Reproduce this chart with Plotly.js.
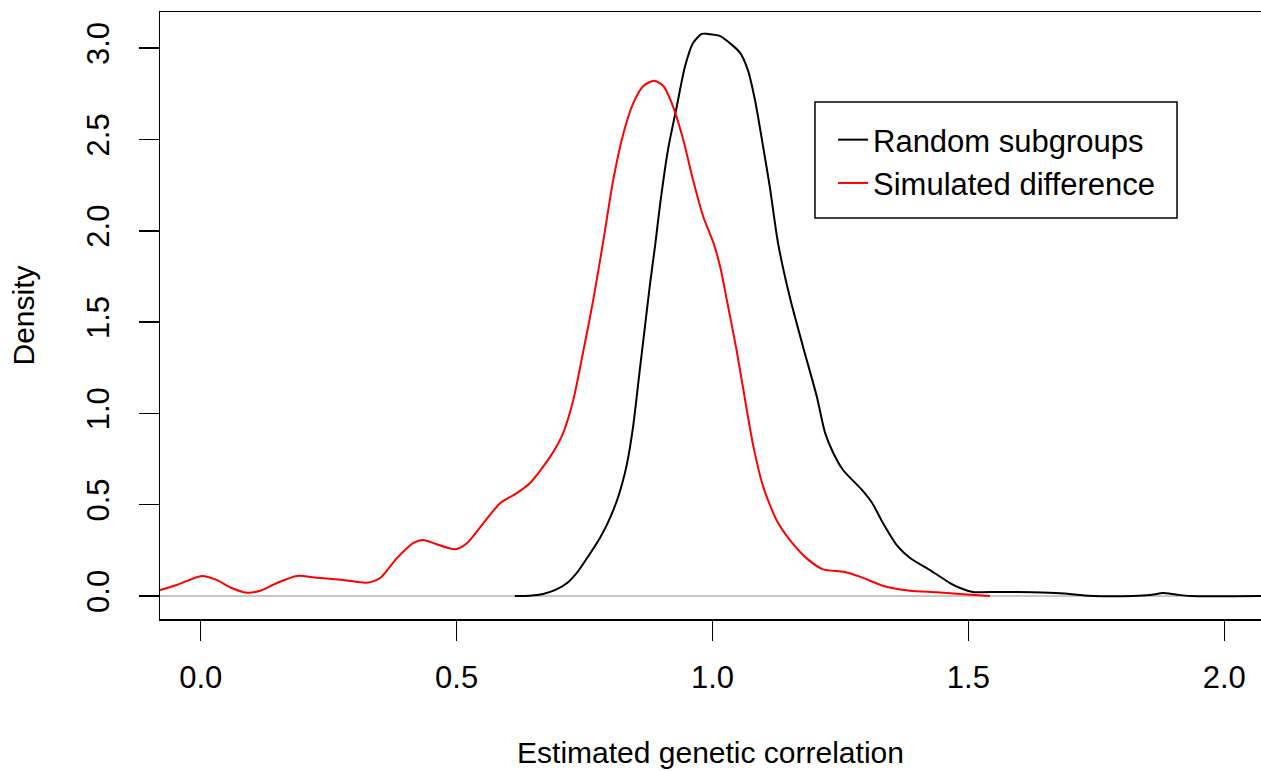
<!DOCTYPE html>
<html>
<head>
<meta charset="utf-8">
<script src="https://cdn.plot.ly/plotly-3.0.1.min.js"></script>
<style>html,body{margin:0;padding:0;background:#fff;}#chart{width:1261px;height:771px;}</style>
</head>
<body>
<div id="chart"></div>
<script>
// Random subgroups density
const randomX = [0.614,0.643,0.669,0.693,0.716,0.736,0.755,0.780,0.794,0.813,0.823,0.833,0.845,0.858,0.868,0.878,0.888,0.897,0.913,0.930,0.946,0.962,0.979,0.991,1.014,1.038,1.054,1.069,1.083,1.099,1.112,1.128,1.151,1.177,1.204,1.220,1.236,1.255,1.292,1.312,1.333,1.360,1.386,1.425,1.464,1.484,1.509,1.562,1.626,1.679,1.712,1.744,1.822,1.855,1.880,1.905,1.933,2.072];
const randomY = [0,0.002,0.011,0.033,0.071,0.131,0.208,0.318,0.392,0.520,0.610,0.725,0.930,1.240,1.475,1.710,1.922,2.131,2.443,2.678,2.897,3.028,3.078,3.078,3.067,3.018,2.974,2.881,2.716,2.459,2.240,1.933,1.637,1.364,1.090,0.893,0.783,0.690,0.581,0.509,0.400,0.279,0.208,0.142,0.071,0.044,0.022,0.022,0.020,0.015,0.007,0,0,0.005,0.016,0.008,0,0];
// Simulated difference density
const simX = [-0.095,-0.0795,-0.0469,0.002,0.031,0.057,0.090,0.116,0.148,0.188,0.227,0.279,0.324,0.350,0.383,0.415,0.435,0.461,0.497,0.520,0.552,0.585,0.617,0.643,0.683,0.708,0.728,0.748,0.767,0.787,0.806,0.826,0.845,0.865,0.886,0.904,0.923,0.943,0.962,0.982,1.002,1.015,1.028,1.047,1.067,1.080,1.099,1.125,1.151,1.184,1.216,1.256,1.288,1.334,1.386,1.438,1.490,1.542];
const simY = [0.024,0.033,0.060,0.110,0.088,0.048,0.018,0.029,0.070,0.110,0.100,0.088,0.073,0.097,0.206,0.289,0.307,0.283,0.256,0.289,0.398,0.508,0.562,0.617,0.763,0.891,1.073,1.347,1.621,1.950,2.278,2.534,2.698,2.793,2.822,2.793,2.680,2.497,2.278,2.077,1.932,1.803,1.621,1.347,1.019,0.818,0.599,0.416,0.307,0.206,0.146,0.133,0.106,0.055,0.029,0.020,0.009,0];
const seriesNames = ["Random subgroups","Simulated difference"];
const xTicks = [0,0.5,1.0,1.5,2.0];
const xTickText = ["0.0","0.5","1.0","1.5","2.0"];
const yTicks = [0,0.5,1.0,1.5,2.0,2.5,3.0];
const yTickText = ["0.0","0.5","1.0","1.5","2.0","2.5","3.0"];

const FONT = "Liberation Sans, Arial, Helvetica, sans-serif";
const W = 1261, H = 771, L = 160, T = 12, B = 152, R = 0;
const pw = W - L - R, ph = H - T - B;
function px2paperX(p){return (p - L)/pw;}
function px2paperY(p){return (H - B - p)/ph;}

const traces = [
  {x: randomX, y: randomY, name: seriesNames[0], type: 'scatter', mode: 'lines',
   line: {color: '#000000', width: 2, shape: 'spline', smoothing: 0.7}},
  {x: simX, y: simY, name: seriesNames[1], type: 'scatter', mode: 'lines',
   line: {color: '#ff0000', width: 2, shape: 'spline', smoothing: 0.7}}
];

const layout = {
  width: W, height: H,
  margin: {l: L, r: R, t: T, b: B, pad: 0},
  paper_bgcolor: '#ffffff', plot_bgcolor: '#ffffff',
  font: {family: FONT, size: 31, color: '#000000'},
  showlegend: true,
  legend: {x: px2paperX(833), y: px2paperY(113), xanchor: 'left', yanchor: 'top',
           bgcolor: 'rgba(0,0,0,0)', borderwidth: 0, font: {family: FONT, size: 31, color: '#000'}},
  xaxis: {range: [-0.0795, 2.0717], tickvals: xTicks, ticktext: xTickText,
          showgrid: false, zeroline: false, showline: true, mirror: true,
          linecolor: '#000', linewidth: 1.5, ticks: 'outside', ticklen: 20, tickwidth: 1.5, tickcolor: '#000',
          ticklabelstandoff: 10,
          tickfont: {family: FONT, size: 31, color: '#000'},
          title: {text: 'Estimated genetic correlation', font: {family: FONT, size: 30, color: '#000'}, standoff: 48},
          automargin: false},
  yaxis: {range: [-0.126, 3.198], tickvals: yTicks, ticktext: yTickText, tickangle: -90,
          showgrid: false, zeroline: true, zerolinecolor: '#c8c8c8', zerolinewidth: 1.2,
          showline: true, mirror: false,
          linecolor: '#000', linewidth: 1.5, ticks: 'outside', ticklen: 20, tickwidth: 1.5, tickcolor: '#000',
          ticklabelstandoff: 17,
          tickfont: {family: FONT, size: 31, color: '#000'},
          title: {text: 'Density', font: {family: FONT, size: 30, color: '#000'}, standoff: 37},
          automargin: false},
  shapes: [
    {type: 'rect', xref: 'paper', yref: 'paper',
     x0: px2paperX(815), x1: px2paperX(1177), y0: px2paperY(218), y1: px2paperY(102),
     line: {color: '#000', width: 1.5}, fillcolor: 'rgba(0,0,0,0)', layer: 'above'}
  ]
};

Plotly.newPlot('chart', traces, layout, {staticPlot: true, displayModeBar: false});
</script>
</body>
</html>
